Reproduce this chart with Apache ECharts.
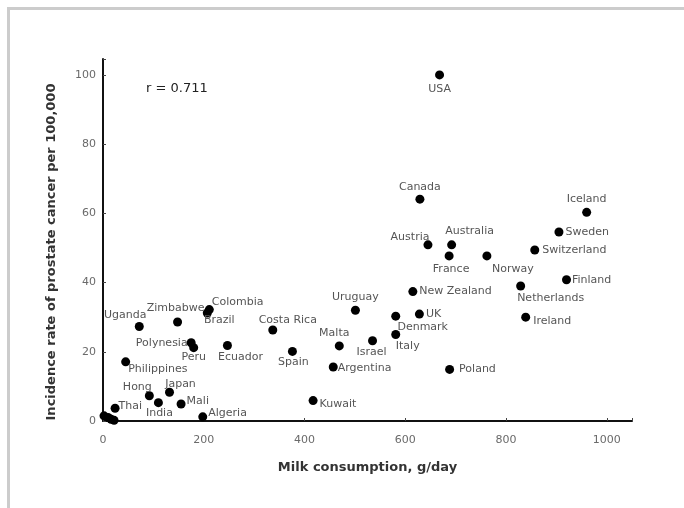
<!DOCTYPE html>
<html>
<head>
<meta charset="utf-8">
<script src="https://cdn.jsdelivr.net/npm/echarts@6/dist/echarts.min.js"></script>
<style>html,body{margin:0;padding:0;background:#fff}#c{width:684px;height:508px}</style>
</head>
<body>
<div id="c"></div>
<script>
// Data
const countries = ['USA','Canada','Iceland','Sweden','Austria','Australia','Switzerland','France','Norway','Finland','Netherlands','New Zealand','Uruguay','UK','Ireland','Denmark','Italy','Israel','Malta','Spain','Argentina','Poland','Kuwait','Costa Rica','Colombia','Brazil','Zimbabwe','Uganda','Polynesia','Peru','Ecuador','Philippines','Hong','Japan','India','Mali','Algeria','Thai','','','',''];
const milk = [668,629,960,905,645,692,857,687,762,920,829,615,501,628,839,581,581,535,469,376,457,688,417,337,211,207,148,72,175,180,247,45,92,132,110,155,198,24,2,10,16,22];
const incidence = [100,64.1,60.3,54.6,50.9,50.9,49.4,47.7,47.7,40.8,39,37.4,32,30.9,30,30.3,25,23.2,21.7,20.1,15.6,14.9,5.9,26.3,32.2,31.2,28.6,27.3,22.6,21.2,21.8,17.1,7.3,8.3,5.3,4.9,1.2,3.7,1.5,1,0.5,0.2];
const xTicks = [0,200,400,600,800,1000];
const yTicks = [0,20,40,60,80,100];

// label placement (style only): position, dx, dy
const labelPlace = {
  'USA':['bottom',0,-1],'Canada':['top',0,3],'Iceland':['top',0,2],'Sweden':['right',-3,0],
  'Austria':['left',11,-8],'Australia':['top',18,1],'Switzerland':['right',-2,0],'France':['bottom',2,-2],
  'Norway':['bottom',26,-2],'Finland':['right',-4,0],'Netherlands':['bottom',30,-3],'New Zealand':['right',-3,0],
  'Uruguay':['top',0,2],'UK':['right',-3,0],'Ireland':['right',-2,4],'Denmark':['bottom',27,-4],
  'Italy':['bottom',12,-3],'Israel':['bottom',-1,-4],'Malta':['top',-5,2],'Spain':['bottom',1,-4],
  'Argentina':['right',-5,1],'Poland':['right',0,0],'Kuwait':['right',-3,4],'Costa Rica':['top',15,5],
  'Colombia':['right',-7,-7],'Brazil':['bottom',12,-8],'Zimbabwe':['top',-2,1],'Uganda':['top',-14,4],
  'Polynesia':['left',6,0],'Peru':['bottom',0,-5],'Ecuador':['bottom',13,-3],'Philippines':['right',-7,7],
  'Hong':['top',-12,6],'Japan':['top',11,7],'India':['bottom',1,-5],'Mali':['right',-4,-3],
  'Algeria':['right',-4,-4],'Thai':['right',-6,-2]
};

const pts = countries.map((n,i)=>{
  const p = labelPlace[n];
  const item = {name:n, value:[milk[i], incidence[i]]};
  if (p) item.label = {show:true, position:p[0], formatter:n};
  else item.label = {show:false};
  return item;
});

const chart = echarts.init(document.getElementById('c'));
const tickStyle = {color:'#6a6a6a', fontFamily:'DejaVu Sans', fontSize:11};
chart.setOption({
  animation:false,
  backgroundColor:'#fff',
  grid:{left:103, right:52, top:59, bottom:87, containLabel:false},
  xAxis:{
    type:'value', min:0, max:1050, interval:200,
    name:'Milk consumption, g/day', nameLocation:'middle', nameGap:40,
    nameTextStyle:{fontFamily:'DejaVu Sans', fontWeight:'bold', fontSize:13, color:'#333'},
    axisLine:{show:true, onZero:false, lineStyle:{color:'#111', width:2}},
    axisTick:{show:true, inside:true, length:3, lineStyle:{color:'#444'}},
    axisLabel:Object.assign({margin:14, formatter:v=>xTicks.includes(v)?String(v):''}, tickStyle),
    splitLine:{show:false}
  },
  yAxis:{
    type:'value', min:0, max:104.6, interval:20,
    axisLine:{show:true, onZero:false, lineStyle:{color:'#111', width:2}},
    axisTick:{show:true, inside:true, length:3, lineStyle:{color:'#444'}},
    axisLabel:Object.assign({margin:7, formatter:v=>yTicks.includes(v)?String(v):''}, tickStyle),
    splitLine:{show:false}
  },
  graphic:[
    {type:'rect', shape:{x:8.5, y:8.5, width:720, height:540}, style:{fill:'none', stroke:'#cccccc', lineWidth:3}, silent:true},
    {type:'text', x:146, y:89, style:{text:'r = 0.711', fontFamily:'DejaVu Sans', fontSize:13, fill:'#222', textVerticalAlign:'middle'}},
    {type:'text', x:52, y:252, rotation:Math.PI/2, style:{text:'Incidence rate of prostate cancer per 100,000', fontFamily:'DejaVu Sans', fontWeight:'bold', fontSize:13, fill:'#333', textAlign:'center', textVerticalAlign:'middle'}}
  ],
  series:[{
    type:'scatter',
    symbolSize:9,
    itemStyle:{color:'#000', opacity:1},
    label:{fontFamily:'DejaVu Sans', fontSize:11, color:'#555', distance:5},
    labelLayout:function(params){
      const p = labelPlace[countries[params.dataIndex]];
      return p ? {dx:p[1], dy:p[2], hideOverlap:false} : {};
    },
    data:pts
  }]
});
</script>
</body>
</html>
